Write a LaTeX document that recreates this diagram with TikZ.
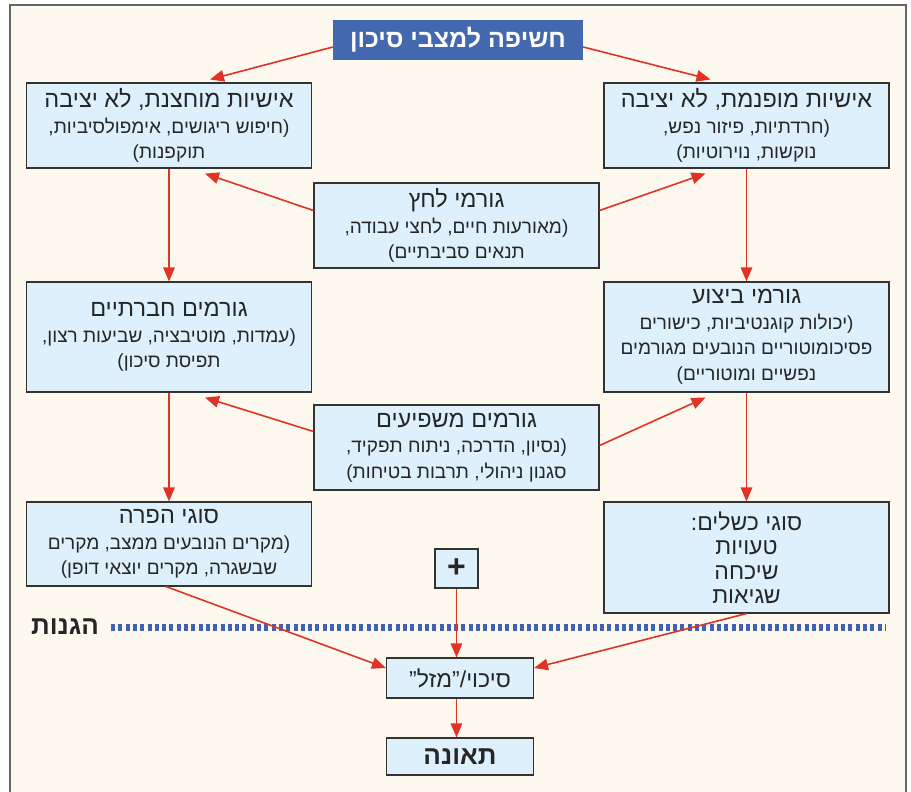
\documentclass[tikz,border=0pt]{standalone}
\usepackage{fontspec}
\setmainfont{Liberation Sans}
\newfontfamily\hebfont[Script=Hebrew]{Liberation Sans}
\usetikzlibrary{arrows.meta}
\TeXXeTstate=1
\newcommand{\rl}[1]{\beginR #1\endR}
\newcommand{\ttl}[1]{{\fontsize{23.5}{26}\selectfont\beginR #1\endR}}
\definecolor{bgcream}{HTML}{FEF9EE}
\definecolor{boxblue}{HTML}{DDF0FB}
\definecolor{headblue}{HTML}{4468B0}
\definecolor{arrred}{HTML}{E03325}
\definecolor{dotblue}{HTML}{3F63AE}

\begin{document}
\begin{tikzpicture}[x=1pt, y=-1pt,
    box/.style={rectangle, draw=black!80, line width=1.1pt, fill=boxblue, align=center, inner sep=2pt,
        text=black!85, font=\hebfont\fontsize{19}{25.5}\selectfont},
    sidebox/.style={box, minimum width=285pt},
    arr/.style={draw=arrred, line width=1.6pt, -{Triangle[length=14pt, width=11.5pt]}}]
    \useasboundingbox (0,0) rectangle (911,792);

    % מסגרת הרקע: שמנת עם קו אפור
    \draw[black!60, line width=1.2pt, fill=bgcream] (10,5) rectangle (906,800);

    % כותרת עליונה: חשיפה למצבי סיכון
    \node[rectangle, fill=headblue, text=white, minimum width=250pt, minimum height=40pt,
        font=\hebfont\bfseries\fontsize{25}{28}\selectfont] (expo) at (458,40) {\rl{חשיפה למצבי סיכון}};

    % שורה ראשונה: שני סוגי האישיות וגורמי הלחץ ביניהם
    \node[sidebox, minimum height=85pt] (extro) at (169,125.5)
        {\ttl{אישיות מוחצנת, לא יציבה}\\ \rl{(חיפוש ריגושים, אימפולסיביות,}\\ \rl{תוקפנות)}};
    \node[sidebox, minimum height=85pt] (intro) at (746.5,125.5)
        {\ttl{אישיות מופנמת, לא יציבה}\\ \rl{(חרדתיות, פיזור נפש,}\\ \rl{נוקשות, נוירוטיות)}};
    \node[sidebox, minimum height=85pt] (stress) at (456.5,225.5)
        {\ttl{גורמי לחץ}\\ \rl{(מאורעות חיים, לחצי עבודה,}\\ \rl{תנאים סביבתיים)}};

    % שורה שנייה: גורמים חברתיים, גורמי ביצוע וגורמים משפיעים
    \node[sidebox, minimum height=110pt] (social) at (169,337)
        {\ttl{גורמים חברתיים}\\ \rl{(עמדות, מוטיבציה, שביעות רצון,}\\ \rl{תפיסת סיכון)}};
    \node[sidebox, minimum height=110pt] (perform) at (746.5,337)
        {\ttl{גורמי ביצוע}\\ \rl{(יכולות קוגנטיביות, כישורים}\\ \rl{פסיכומוטוריים הנובעים מגורמים}\\ \rl{נפשיים ומוטוריים)}};
    \node[sidebox, minimum height=85pt] (influence) at (456.5,447.5)
        {\ttl{גורמים משפיעים}\\ \rl{(נסיון, הדרכה, ניתוח תפקיד,}\\ \rl{סגנון ניהולי, תרבות בטיחות)}};

    % שורה שלישית: סוגי הפרה וסוגי כשלים
    \node[sidebox, minimum height=84pt] (breach) at (169,544)
        {\ttl{סוגי הפרה}\\ \rl{(מקרים הנובעים ממצב, מקרים}\\ \rl{שבשגרה, מקרים יוצאי דופן)}};
    \node[sidebox, minimum height=111pt, font=\hebfont\fontsize{23}{24.5}\selectfont] (failure) at (746.5,557.5)
        {\rl{סוגי כשלים:}\\ \rl{טעויות}\\ \rl{שיכחה}\\ \rl{שגיאות}};
    \node[box, minimum width=43pt, minimum height=39pt, font=\bfseries\fontsize{32}{32}\selectfont] (plus) at (456.5,568.5) {+};

    % קו ההגנות המנוקד
    \node[text=black!85, font=\hebfont\bfseries\fontsize{26}{28}\selectfont, inner sep=0pt] (defense) at (65,627) {\rl{הגנות}};
    \coordinate (defend) at (886,627);
    \draw[dotblue, line width=7pt, dash pattern=on 4pt off 3.3pt] ([xshift=12pt]defense.east) -- (defend);

    % סיכוי ותאונה
    \node[box, minimum width=147pt, minimum height=40pt, font=\hebfont\fontsize{23}{26}\selectfont] (chance) at (460,678) {\rl{סיכוי/”מזל”}};
    \node[box, minimum width=147pt, minimum height=37pt, font=\hebfont\bfseries\fontsize{26}{28}\selectfont] (accident) at (460,756.5) {\rl{תאונה}};

    % חיצים
    \draw[arr] ([yshift=-7pt]expo.west) -- ([xshift=41pt,yshift=3pt]extro.north);
    \draw[arr] ([yshift=-7pt]expo.east) -- ([xshift=-36pt,yshift=3pt]intro.north);
    \draw[arr] ([yshift=15pt]stress.west) -- ([xshift=36pt,yshift=-5pt]extro.south);
    \draw[arr] ([yshift=15pt]stress.east) -- ([xshift=-41pt,yshift=-5pt]intro.south);
    \draw[arr] (extro.south) -- (social.north);
    \draw[arr] (intro.south) -- (perform.north);
    \draw[arr] ([yshift=16pt]influence.west) -- ([xshift=36pt,yshift=-5pt]social.south);
    \draw[arr] ([yshift=2pt]influence.east) -- ([xshift=-41pt,yshift=-5pt]perform.south);
    \draw[arr] (social.south) -- (breach.north);
    \draw[arr] (perform.south) -- (failure.north);
    \draw[arr] ([xshift=-3pt]breach.south) -- ([yshift=10pt]chance.west);
    \draw[arr] (failure.south) -- ([yshift=10pt]chance.east);
    \draw[arr] (plus.south) -- (plus.south |- chance.north);
    \draw[arr] (chance.south -| plus.south) -- (plus.south |- accident.north);
\end{tikzpicture}
\end{document}
